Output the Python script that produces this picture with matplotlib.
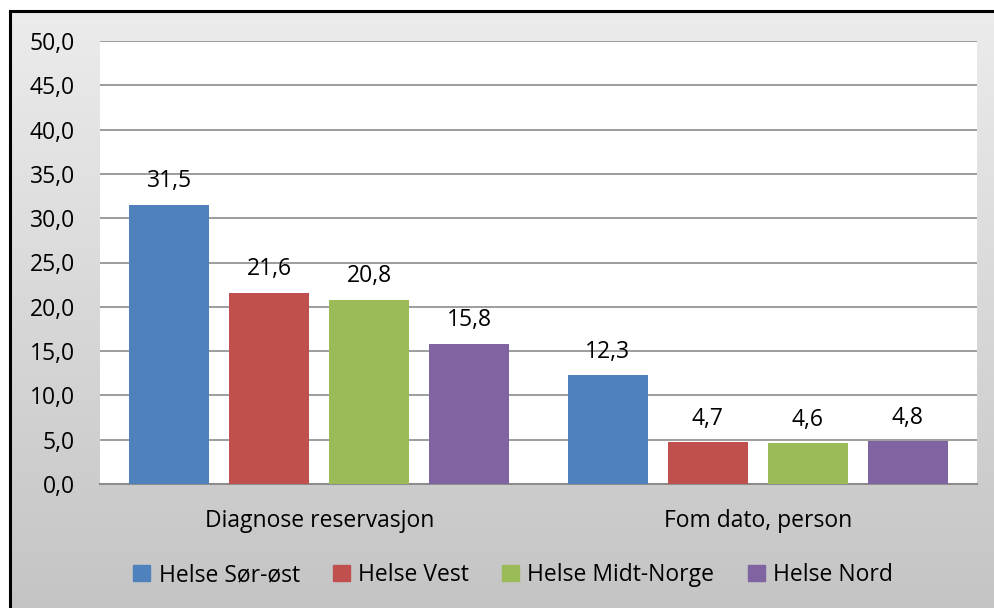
import numpy as np
import matplotlib.pyplot as plt
from matplotlib.patches import Rectangle

categories = ["Diagnose reservasjon", "Fom dato, person"]
series = ["Helse Sør-øst", "Helse Vest", "Helse Midt-Norge", "Helse Nord"]
values = {
    "Helse Sør-øst": [31.5, 12.3],
    "Helse Vest": [21.6, 4.7],
    "Helse Midt-Norge": [20.8, 4.6],
    "Helse Nord": [15.8, 4.8],
}
colors = ["#4f81bd", "#c0504d", "#9bbb59", "#8064a2"]
yticks = np.arange(0, 50.1, 5)

FONT = "Open Sans"
FS = 16.5
W, H = 995, 608
fig = plt.figure(figsize=(W / 100, H / 100), dpi=100)
fig.patch.set_facecolor("white")

# gradient background with frame
bg = fig.add_axes([10 / W, 0, 1 - 10 / W, 1 - 11 / H])
grad = np.linspace(0, 1, 256).reshape(-1, 1)
top = np.array([0.925, 0.925, 0.925])
bot = np.array([0.77, 0.77, 0.77])
img = top + (bot - top) * grad[:, :, None]
bg.imshow(img, aspect="auto", extent=[0, 1, 0, 1], origin="upper")
bg.set_xlim(0, 1)
bg.set_ylim(0, 1)
bg.set_xticks([])
bg.set_yticks([])
for s in bg.spines.values():
    s.set_linewidth(2.2)
    s.set_color("black")
bg.spines["right"].set_visible(False)
bg.spines["bottom"].set_visible(False)
bg.set_zorder(0)

ax = fig.add_axes([100 / W, (H - 484) / H, 877 / W, (484 - 41) / H])
ax.set_zorder(1)
ax.set_facecolor("white")
x = np.arange(len(categories))
bw = 80 / 438.5
step = 100 / 438.5
for i, (name, c) in enumerate(zip(series, colors)):
    off = (i - 1.5) * step
    vals = values[name]
    ax.bar(x + off, vals, width=bw, color=c, zorder=3)
    for xi, v in zip(x + off, vals):
        ax.text(xi, v + 1.3, f"{v:.1f}".replace(".", ","), ha="center", va="bottom",
                fontsize=FS, family=FONT, color="black", zorder=4)

ax.set_xlim(-0.5, 1.5)
ax.set_ylim(0, 50)
ax.set_yticks(yticks)
ax.set_yticklabels([f"{t:.1f}".replace(".", ",") for t in yticks], family=FONT, fontsize=FS)
ax.set_xticks(x)
ax.set_xticklabels(categories, family=FONT, fontsize=FS)
ax.tick_params(axis="both", length=0)
ax.tick_params(axis="y", pad=18)
ax.tick_params(axis="x", pad=18)
ax.grid(axis="y", color="#8c8c8c", linewidth=1.2, zorder=0)
for s in ["top", "right", "left"]:
    ax.spines[s].set_visible(False)
ax.spines["bottom"].set_color("#8c8c8c")
ax.spines["bottom"].set_linewidth(1.5)

handles = [Rectangle((0, 0), 1, 1, color=c) for c in colors]
fig.legend(handles, series, loc="center", bbox_to_anchor=(513 / W, 1 - 575 / H), ncol=4,
           frameon=False, prop={"family": FONT, "size": FS}, handlelength=0.75,
           handleheight=0.75, handletextpad=0.35, columnspacing=1.45)

fig.savefig("out.png", dpi=100)
